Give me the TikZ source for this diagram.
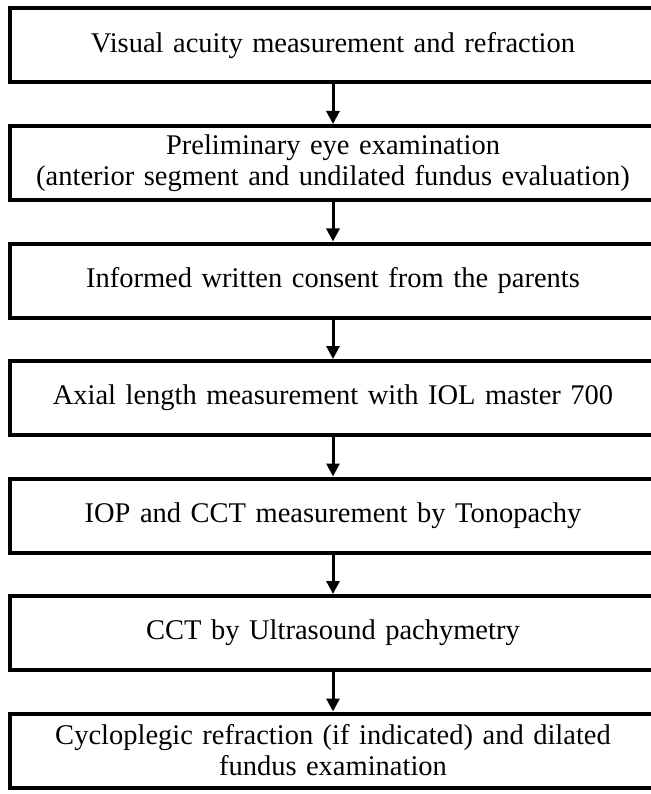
\documentclass[tikz,border=0pt]{standalone}
\usepackage{fontspec}
\setmainfont{Liberation Serif}
\usetikzlibrary{positioning,arrows.meta}

\begin{document}
\begin{tikzpicture}[x=1pt,y=-1pt,
		stage/.style={draw, line width=4pt, minimum width=646pt, minimum height=74pt,
			text width=630pt, align=center, inner sep=0pt,
			font=\fontsize{28.5}{31}\selectfont},
		flow/.style={line width=3pt, -{Triangle[length=13pt,width=13pt]}}]
			\useasboundingbox (0,0) rectangle (650,794);
			\node[stage] (acuity) at (333,45.5) {Visual acuity measurement and refraction};
			\node[stage, below=39.5pt of acuity] (prelim) {Preliminary eye examination\\(anterior segment and undilated fundus evaluation)};
			\node[stage, below=39.5pt of prelim] (consent) {Informed written consent from the parents};
			\node[stage, below=39.5pt of consent] (axial) {Axial length measurement with IOL master 700};
			\node[stage, below=39.5pt of axial] (iop) {IOP and CCT measurement by Tonopachy};
			\node[stage, below=39.5pt of iop] (cct) {CCT by Ultrasound pachymetry};
			\node[stage, below=39.5pt of cct] (cyclo) {Cycloplegic refraction (if indicated) and dilated\\fundus examination};
			\foreach \a/\b in {acuity/prelim,prelim/consent,consent/axial,axial/iop,iop/cct,cct/cyclo}
				\draw[flow] (\a) -- (\b);
		\end{tikzpicture}
\end{document}
